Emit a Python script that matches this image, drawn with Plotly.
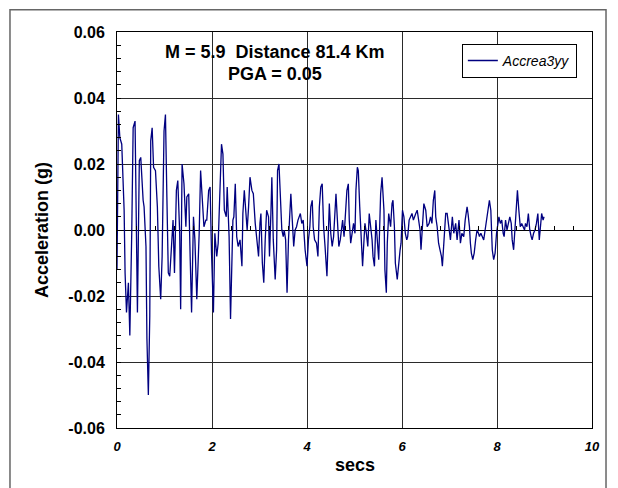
import plotly.graph_objects as go

# ---------------- data ----------------
time_s = [
    0.00, 0.03, 0.06, 0.10, 0.12, 0.15, 0.17, 0.20, 0.24, 0.27, 0.31, 0.34, 0.38, 0.40, 0.43, 0.47,
    0.50, 0.55, 0.57, 0.61, 0.63, 0.66, 0.69, 0.71, 0.74, 0.77, 0.81, 0.85, 0.88, 0.92, 0.95, 0.99,
    1.02, 1.05, 1.08, 1.11, 1.15, 1.18, 1.21, 1.25, 1.28, 1.32, 1.34, 1.37, 1.41, 1.45, 1.47, 1.51,
    1.54, 1.57, 1.61, 1.64, 1.68, 1.73, 1.76, 1.80, 1.83, 1.87, 1.89, 1.93, 1.96, 1.99, 2.03, 2.06,
    2.10, 2.13, 2.17, 2.20, 2.23, 2.26, 2.30, 2.32, 2.36, 2.39, 2.44, 2.46, 2.49, 2.52, 2.55, 2.59,
    2.63, 2.65, 2.68, 2.72, 2.74, 2.77, 2.80, 2.84, 2.87, 2.91, 2.94, 2.98, 3.01, 3.03, 3.06, 3.09,
    3.12, 3.15, 3.19, 3.21, 3.24, 3.26, 3.29, 3.33, 3.36, 3.38, 3.41, 3.44, 3.47, 3.50, 3.52, 3.55,
    3.58, 3.61, 3.64, 3.66, 3.69, 3.72, 3.75, 3.78, 3.81, 3.83, 3.86, 3.89, 3.92, 3.96, 4.00, 4.03,
    4.06, 4.08, 4.11, 4.13, 4.16, 4.20, 4.23, 4.26, 4.29, 4.32, 4.35, 4.38, 4.40, 4.42, 4.44, 4.47,
    4.50, 4.53, 4.56, 4.59, 4.61, 4.64, 4.67, 4.70, 4.73, 4.75, 4.78, 4.81, 4.84, 4.87, 4.89, 4.92,
    4.95, 4.98, 5.01, 5.03, 5.06, 5.08, 5.11, 5.14, 5.17, 5.20, 5.22, 5.25, 5.28, 5.31, 5.34, 5.37,
    5.39, 5.42, 5.45, 5.48, 5.51, 5.55, 5.58, 5.62, 5.64, 5.67, 5.69, 5.72, 5.76, 5.79, 5.81, 5.84,
    5.86, 5.90, 5.93, 5.96, 5.98, 6.01, 6.04, 6.07, 6.10, 6.12, 6.15, 6.18, 6.21, 6.24, 6.26, 6.29,
    6.32, 6.35, 6.38, 6.40, 6.43, 6.46, 6.50, 6.53, 6.57, 6.60, 6.63, 6.66, 6.69, 6.71, 6.74, 6.77,
    6.80, 6.83, 6.85, 6.88, 6.92, 6.95, 6.99, 7.02, 7.06, 7.09, 7.13, 7.16, 7.20, 7.23, 7.26, 7.30,
    7.33, 7.37, 7.39, 7.42, 7.44, 7.46, 7.49, 7.52, 7.55, 7.58, 7.61, 7.63, 7.66, 7.69, 7.72, 7.75,
    7.79, 7.82, 7.84, 7.87, 7.90, 7.93, 7.96, 7.99, 8.01, 8.04, 8.07, 8.10, 8.13, 8.15, 8.18, 8.21,
    8.24, 8.27, 8.30, 8.32, 8.35, 8.38, 8.41, 8.43, 8.46, 8.49, 8.52, 8.55, 8.58, 8.60, 8.63, 8.66,
    8.69, 8.72, 8.74, 8.77, 8.80, 8.83, 8.86, 8.89, 8.91, 8.94, 8.97, 8.99,
]
accel_g = [
    -0.012, 0.035, 0.028, 0.026, 0.018, 0.006, -0.013, -0.025, -0.016, -0.032, -0.001, 0.031, 0.033, 0.011, -0.025, 0.021,
    0.022, 0.009, 0.007, -0.005, -0.033, -0.050, -0.026, 0.027, 0.031, 0.019, 0.018, 0.007, -0.011, -0.021, -0.008, 0.030,
    0.035, 0.010, -0.013, -0.014, -0.005, 0.003, -0.013, 0.012, 0.015, -0.001, -0.024, 0.020, 0.014, 0.001, 0.010, 0.011,
    -0.008, -0.025, 0.004, -0.003, -0.021, -0.001, 0.018, 0.009, 0.001, 0.003, 0.003, 0.012, 0.013, -0.007, -0.025, -0.001,
    -0.008, -0.004, 0.013, 0.026, 0.023, 0.006, 0.004, 0.013, -0.002, -0.027, 0.003, 0.004, 0.014, -0.002, -0.005, -0.003,
    -0.011, 0.005, 0.012, 0.002, 0.000, 0.007, 0.016, 0.012, 0.011, 0.002, -0.002, -0.008, 0.002, 0.005, -0.010, -0.016,
    -0.003, 0.006, 0.004, -0.008, 0.005, 0.016, -0.003, -0.015, -0.006, 0.018, 0.020, 0.012, 0.000, -0.002, 0.000, -0.003,
    -0.019, -0.003, 0.007, 0.011, 0.003, -0.005, 0.000, 0.001, 0.003, 0.004, 0.005, 0.002, 0.003, -0.006, -0.011, -0.003,
    0.001, 0.007, 0.009, 0.001, -0.003, -0.004, -0.008, 0.007, 0.013, 0.014, 0.001, -0.005, -0.010, -0.014, -0.005, 0.008,
    -0.001, -0.005, -0.002, 0.007, 0.011, 0.003, -0.005, -0.003, 0.002, 0.003, -0.002, 0.004, 0.012, 0.014, 0.003, -0.004,
    0.000, 0.002, -0.001, 0.012, 0.019, 0.018, 0.007, -0.003, -0.011, -0.003, 0.002, -0.001, -0.005, 0.005, 0.001, -0.003,
    -0.008, -0.011, 0.003, -0.002, -0.009, 0.011, 0.016, 0.006, -0.012, -0.019, -0.004, 0.005, 0.001, 0.008, 0.009, 0.001,
    -0.010, -0.015, -0.009, -0.006, -0.004, 0.006, 0.004, -0.001, -0.003, -0.002, 0.003, 0.004, 0.005, 0.003, 0.004, 0.005,
    0.006, 0.002, 0.000, -0.006, 0.001, 0.008, 0.006, 0.001, 0.002, 0.004, 0.002, 0.009, 0.012, 0.004, 0.001, -0.004,
    -0.006, -0.008, -0.011, -0.004, 0.005, 0.005, 0.001, -0.003, 0.004, -0.001, 0.002, -0.003, 0.003, -0.004, -0.001, -0.002,
    0.003, 0.007, 0.005, 0.001, -0.004, -0.007, -0.009, -0.007, -0.003, 0.000, -0.001, -0.002, -0.001, -0.002, -0.003, 0.000,
    0.004, 0.007, 0.009, 0.006, -0.006, -0.009, -0.007, -0.001, 0.001, 0.004, 0.002, 0.003, -0.001, -0.002, 0.003, 0.000,
    0.002, 0.004, 0.002, -0.003, -0.006, 0.001, 0.008, 0.012, 0.006, 0.001, 0.002, 0.001, 0.000, 0.002, 0.001, 0.005,
    0.000, -0.002, -0.003, -0.001, 0.000, 0.002, 0.005, -0.003, 0.001, 0.005, 0.003, 0.004,
]

series_name = "Accrea3yy"
title_line1 = "M = 5.9\u00a0 Distance 81.4 Km"
title_line2 = "PGA = 0.05"
x_title = "secs"
y_title = "Acceleration (g)"
x_tick_vals = [0, 2, 4, 6, 8, 10]
x_tick_text = ["0", "2", "4", "6", "8", "10"]
y_tick_vals = [-0.06, -0.04, -0.02, 0.0, 0.02, 0.04, 0.06]
y_tick_text = ["-0.06", "-0.04", "-0.02", "0.00", "0.02", "0.04", "0.06"]

FONT = "Liberation Sans, Arial, sans-serif"
GRID = "#2a2a2a"

fig = go.Figure()
fig.add_trace(go.Scatter(
    x=time_s, y=accel_g, mode="lines", name=series_name,
    line=dict(color="#000080", width=1.3),
))
# helper trace so the zero-line tick axis is drawn
fig.add_trace(go.Scatter(x=[None], y=[None], xaxis="x2", showlegend=False, hoverinfo="skip"))

fig.update_layout(
    width=618, height=488,
    margin=dict(l=117, r=26, t=32, b=60),
    paper_bgcolor="white", plot_bgcolor="white",
    font=dict(family=FONT, color="black"),
    showlegend=True,
    xaxis=dict(
        range=[0, 10], tickmode="array", tickvals=x_tick_vals, ticktext=x_tick_text,
        showgrid=True, gridcolor=GRID, gridwidth=1, zeroline=False,
        showline=True, linecolor="black", linewidth=1, mirror=True, ticks="",
        tickfont=dict(family=FONT, size=13, color="black", weight="bold", style="italic"),
        ticklabelstandoff=6,
    ),
    xaxis2=dict(
        overlaying="x", anchor="free", position=0.5, range=[0, 10],
        showgrid=False, showline=False, showticklabels=False, zeroline=False,
        ticks="inside", tickmode="linear", tick0=0, dtick=0.4, ticklen=4,
        tickcolor="black", tickwidth=1,
    ),
    yaxis=dict(
        range=[-0.06, 0.06], tickmode="array", tickvals=y_tick_vals, ticktext=y_tick_text,
        showgrid=True, gridcolor=GRID, gridwidth=1,
        zeroline=True, zerolinecolor="black", zerolinewidth=1,
        showline=True, linecolor="black", linewidth=1, mirror=True,
        ticks="inside", ticklen=4, tickcolor="black",
        minor=dict(tickmode="linear", tick0=-0.06, dtick=0.004, ticks="inside",
                   ticklen=4, tickcolor="black", showgrid=False),
        tickfont=dict(family=FONT, size=16, color="black", weight="bold"),
        ticklabelstandoff=8,
    ),
    legend=dict(
        x=0.726, y=0.97, xanchor="left", yanchor="top",
        bgcolor="white", bordercolor="black", borderwidth=1,
        font=dict(family=FONT, size=14, color="black", style="italic"),
        itemwidth=30, tracegroupgap=0,
    ),
    shapes=[
        dict(type="rect", xref="paper", yref="paper", x0=0.07, x1=0.596, y0=0.859, y1=0.98,
             fillcolor="white", line=dict(width=0), layer="between"),
        dict(type="rect", xref="paper", yref="paper", x0=-0.2253, x1=1.0295, y0=-0.2, y1=1.056,
             fillcolor="rgba(0,0,0,0)", line=dict(color="#666666", width=1.5), layer="above"),
    ],
    annotations=[
        dict(text=title_line1, xref="paper", yref="paper", x=0.333, y=0.949, showarrow=False,
             xanchor="center", yanchor="middle", font=dict(family=FONT, size=18, weight="bold")),
        dict(text=title_line2, xref="paper", yref="paper", x=0.333, y=0.894, showarrow=False,
             xanchor="center", yanchor="middle", font=dict(family=FONT, size=18, weight="bold")),
        dict(text=x_title, xref="paper", yref="paper", x=0.5, y=-0.093, showarrow=False,
             xanchor="center", yanchor="middle", font=dict(family=FONT, size=18, weight="bold")),
        dict(text=y_title, xref="paper", yref="paper", x=-0.158, y=0.5, showarrow=False,
             textangle=-90, xanchor="center", yanchor="middle",
             font=dict(family=FONT, size=18, weight="bold")),
    ],
)

fig.write_html("out.html")
